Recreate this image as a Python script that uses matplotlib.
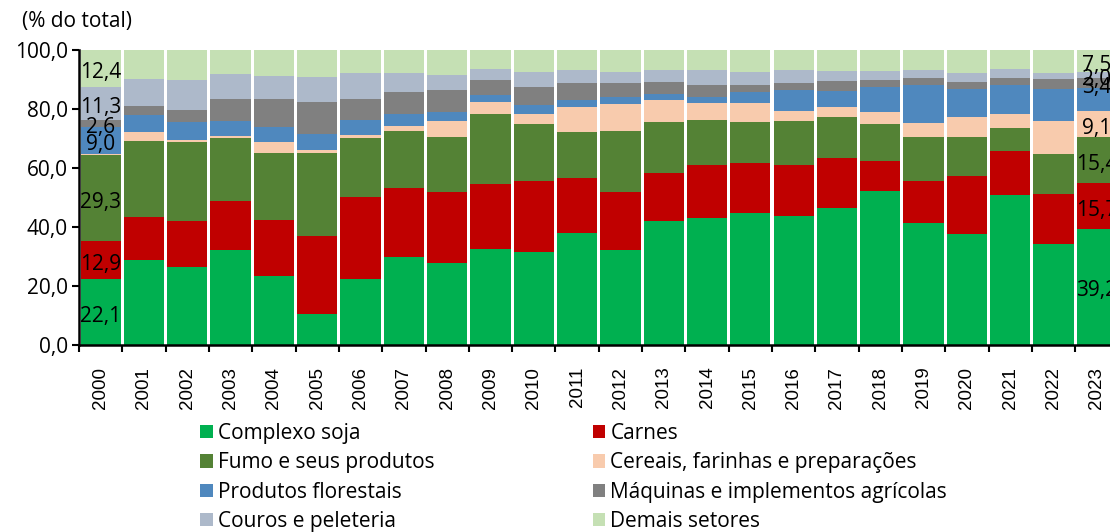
import matplotlib
matplotlib.use("Agg")
import matplotlib.pyplot as plt
from matplotlib.patches import Patch
import numpy as np

# Participação por setor nas exportações (% do total)
anos = [str(a) for a in range(2000, 2024)]

soja = [22.1, 28.7, 26.3, 32.2, 23.2, 10.5, 22.1, 29.7, 27.6, 32.3, 31.5, 37.8,
        32.0, 42.1, 42.8, 44.8, 43.6, 46.2, 52.1, 41.3, 37.5, 50.6, 34.0, 39.2]
carnes = [12.9, 14.7, 15.7, 16.4, 19.0, 26.4, 28.1, 23.6, 24.3, 22.3, 24.0, 18.9,
          19.9, 16.0, 18.0, 16.9, 17.4, 17.2, 10.1, 14.2, 19.8, 15.1, 17.0, 15.7]
fumo = [29.3, 25.8, 26.9, 21.6, 22.8, 28.1, 20.0, 19.2, 18.4, 23.8, 19.5, 15.4,
        20.5, 17.6, 15.4, 13.8, 15.0, 14.0, 12.8, 14.8, 13.3, 7.9, 13.6, 15.4]
cereais = [0.4, 3.1, 0.5, 0.6, 3.7, 1.1, 1.0, 1.8, 5.6, 3.8, 3.3, 8.6,
           9.1, 7.3, 5.8, 6.4, 3.4, 3.2, 3.9, 4.8, 6.8, 4.8, 11.2, 9.1]
florestais = [9.0, 5.5, 6.0, 5.0, 5.0, 5.4, 4.9, 3.8, 2.9, 2.6, 2.9, 2.4,
              2.6, 2.2, 2.1, 3.9, 7.1, 5.6, 8.6, 13.0, 9.5, 9.6, 10.8, 7.7]
maquinas = [2.6, 3.1, 4.3, 7.6, 9.7, 10.9, 7.3, 7.6, 7.6, 4.9, 6.1, 5.8,
            4.8, 3.9, 3.9, 2.4, 2.3, 3.2, 2.4, 2.3, 2.2, 2.6, 3.4, 3.4]
couros = [11.3, 9.4, 10.2, 8.4, 7.8, 8.5, 8.7, 6.6, 5.2, 3.8, 5.2, 4.4,
          3.7, 4.0, 5.1, 4.4, 4.3, 3.5, 3.0, 2.9, 3.2, 3.1, 2.2, 2.0]
demais = [12.4, 9.7, 10.1, 8.2, 8.8, 9.1, 7.9, 7.7, 8.4, 6.5, 7.5, 6.7,
          7.4, 6.9, 6.9, 7.4, 6.9, 7.1, 7.1, 6.7, 7.7, 6.3, 7.8, 7.5]

series = [
    ("Complexo soja", soja, "#00B050"),
    ("Carnes", carnes, "#C00000"),
    ("Fumo e seus produtos", fumo, "#548235"),
    ("Cereais, farinhas e preparações", cereais, "#F8CBAD"),
    ("Produtos florestais", florestais, "#4F88BE"),
    ("Máquinas e implementos agrícolas", maquinas, "#808080"),
    ("Couros e peleteria", couros, "#ADB9CA"),
    ("Demais setores", demais, "#C5E0B4"),
]

# rótulos exibidos apenas no primeiro e no último ano
rotulos_2000 = [22.1, 12.9, 29.3, None, 9.0, 2.6, 11.3, 12.4]
rotulos_2023 = [39.2, 15.7, 15.4, 9.1, None, 3.4, 2.0, 7.5]

plt.rcParams["font.family"] = ["Open Sans", "DejaVu Sans"]

fig = plt.figure(figsize=(11.1, 5.32), dpi=100)
ax = fig.add_axes([79 / 1110, 1 - 344.5 / 532, 1039.5 / 1110, 294.5 / 532])

x = np.arange(len(anos))
base = np.zeros(len(anos))
for nome, vals, cor in series:
    vals = np.array(vals)
    ax.bar(x, vals, bottom=base, width=0.93, color=cor, label=nome)
    base += vals

def fmt(v):
    return f"{v:.1f}".replace(".", ",")

for idx, rot in ((0, rotulos_2000), (len(anos) - 1, rotulos_2023)):
    acum = 0
    for (nome, vals, cor), r in zip(series, rot):
        v = vals[idx]
        if r is not None:
            ax.annotate(fmt(r), (idx, acum + v / 2), xytext=(0, -3),
                        textcoords="offset points", ha="center", va="center",
                        fontsize=15, color="black", annotation_clip=False)
        acum += v

ax.set_xlim(-0.5, len(anos) - 0.5)
ax.set_ylim(0, 100)
ax.set_yticks(np.arange(0, 101, 20))
ax.set_yticklabels([fmt(v) for v in np.arange(0, 101, 20)], fontsize=15)

# marcas entre as barras, rótulos no centro
ax.set_xticks(np.arange(-0.5, len(anos), 1.0))
ax.set_xticklabels([])
ax.set_xticks(x, minor=True)
ax.set_xticklabels(anos, minor=True, rotation=90, fontsize=13.5,
                   family="Liberation Sans")
ax.tick_params(axis="x", which="minor", length=0, pad=16)
ax.tick_params(axis="x", which="major", length=5, width=1.5)
ax.tick_params(axis="y", length=5, width=1.5, pad=3)

for s in ("top", "right"):
    ax.spines[s].set_visible(False)
for s in ("left", "bottom"):
    ax.spines[s].set_linewidth(1.8)

fig.text(22 / 1110, 1 - 21 / 532, "(% do total)", fontsize=15, va="center", ha="left")

handles = [Patch(facecolor=c, label=n) for n, _, c in series]
ordem = [0, 2, 4, 6, 1, 3, 5, 7]
fig.legend([handles[i] for i in ordem], [series[i][0] for i in ordem],
           ncol=2, loc="upper left", bbox_to_anchor=(200 / 1110, 1 - 423 / 532),
           frameon=False, fontsize=15, handlelength=0.6, handleheight=0.6,
           handletextpad=0.25, columnspacing=7.6, labelspacing=0.4,
           borderaxespad=0, borderpad=0)

fig.savefig("out.png", dpi=100)
